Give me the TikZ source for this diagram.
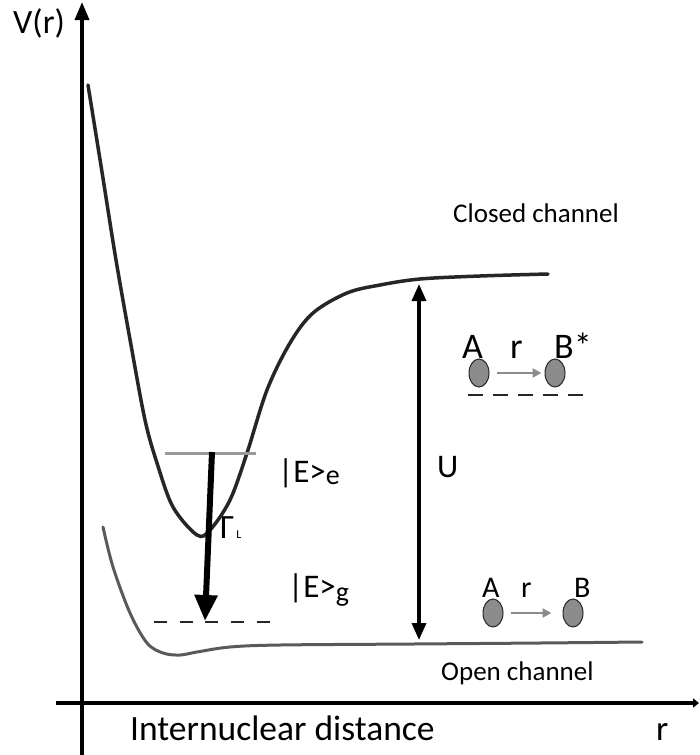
\documentclass[tikz,border=0pt]{standalone}
\usepackage{fontspec}
\setmainfont{Carlito}
\usetikzlibrary{arrows.meta,shapes.geometric,calc}
\definecolor{curvedark}{HTML}{262626}
\definecolor{curvegray}{HTML}{5A5A5A}
\definecolor{levelgray}{HTML}{9A9A9A}
\definecolor{molgray}{HTML}{8C8C8C}
\tikzset{
  axisline/.style={line width=3.5pt, black},
  lbl/.style={anchor=base west, inner sep=0pt, text=black},
  molecule/.style={ellipse, draw=curvedark, fill=molgray, line width=1pt, minimum width=20pt, minimum height=28pt, inner sep=0pt},
  molarrow/.style={line width=2.5pt, molgray, -{Triangle[width=9pt,length=9pt]}},
}
\begin{document}
\begin{tikzpicture}[x=1pt,y=-1pt]
\useasboundingbox (0,0) rectangle (699,755);
% axes
\coordinate (yb) at (82,755);
\coordinate (yt) at (82,2);
\coordinate (xl) at (56,703);
\coordinate (xr) at (699,703);
\draw[axisline, -{Triangle[width=14pt,length=18pt]}] (yb) -- (yt);
\draw[axisline, -{Triangle[width=9pt,length=6pt]}] (xl) -- (xr);
\node[lbl, font=\fontsize{34}{40}\selectfont] (vr) at (13,33) {V(r)};
\node[lbl, font=\fontsize{35.5}{40}\selectfont] (dist) at (130,740) {Internuclear distance};
\node[lbl, font=\fontsize{35}{40}\selectfont] (rlab) at (656,740) {r};
% closed channel curve
\draw[curvedark, line width=3.5pt, line cap=round]
  plot[smooth, tension=0.55] coordinates {(88,85) (102,172) (116,260) (131,345) (145,420) (157,463) (173,507) (197,535) (210,530) (230,500) (247,453) (267,390) (290,343) (313,313) (347,293) (380,285) (420,279) (480,276) (548,274)};
% open channel curve
\draw[curvegray, line width=3pt, line cap=round]
  plot[smooth, tension=0.55] coordinates {(103,527) (113,567) (130,613) (147,643) (163,653) (180,655) (197,652) (230,647) (280,645) (413,644) (540,643) (642,642)};
% levels
\coordinate (ela) at (165,453);
\coordinate (elb) at (256,453);
\draw[levelgray, line width=3pt] (ela) -- (elb);
\coordinate (gla) at (154,622);
\coordinate (glb) at (270,622);
\draw[curvedark, line width=2.7pt, dash pattern=on 13pt off 12.7pt] (gla) -- (glb);
% decay arrow
\coordinate (gt) at (212,452);
\coordinate (gb) at (205,621);
\draw[black, line width=6pt, -{Triangle[width=22pt,length=26pt]}] (gt) -- (gb);
\node[lbl, font=\fontsize{34}{36}\selectfont] (gam) at (220,538) {Γ\fontsize{12}{13}\selectfont\,L};
% U arrow
\coordinate (ut) at (419,284);
\coordinate (ub) at (419,640);
\draw[black, line width=3.5pt, {Triangle[width=14pt,length=17pt]}-{Triangle[width=14pt,length=17pt]}] (ub) -- (ut);
\node[lbl, font=\fontsize{33}{36}\selectfont] (U) at (437,477) {U};
% state labels
\node[lbl, font=\fontsize{33}{36}\selectfont] (Ee) at (278,482) {|E>\raisebox{-2pt}{\fontsize{28}{30}\selectfont e}};
\node[lbl, font=\fontsize{33}{36}\selectfont] (Eg) at (288,597) {|E>\raisebox{-4pt}{\fontsize{28}{30}\selectfont g}};
% channel labels
\node[lbl, font=\fontsize{27}{30}\selectfont] (closed) at (453,222) {Closed channel};
\node[lbl, font=\fontsize{27}{30}\selectfont] (open) at (441,680) {Open channel};
% upper molecules
\node[lbl, font=\fontsize{36}{40}\selectfont] (A1) at (462,358) {A};
\node[lbl, font=\fontsize{36}{40}\selectfont] (r1) at (510,358) {r};
\node[lbl, font=\fontsize{36}{40}\selectfont] (B1) at (554,358) {B*};
\node[molecule] (ma1) at (479,373) {};
\node[molecule] (mb1) at (555,373) {};
\draw[molarrow] ($(ma1.east)+(7,0)$) -- ($(mb1.west)+(-3,0)$);
\coordinate (d1a) at (468,395);
\coordinate (d1b) at (585,395);
\draw[curvedark, line width=2.5pt, dash pattern=on 15pt off 10pt] (d1a) -- (d1b);
% lower molecules
\node[lbl, font=\fontsize{30}{32}\selectfont] (A2) at (482,597) {A};
\node[lbl, font=\fontsize{30}{32}\selectfont] (r2) at (521,597) {r};
\node[lbl, font=\fontsize{30}{32}\selectfont] (B2) at (574,597) {B};
\node[molecule] (ma2) at (493,613) {};
\node[molecule] (mb2) at (573,613) {};
\draw[molarrow] ($(ma2.east)+(7,0)$) -- ($(mb2.west)+(-11,0)$);
\end{tikzpicture}
\end{document}
